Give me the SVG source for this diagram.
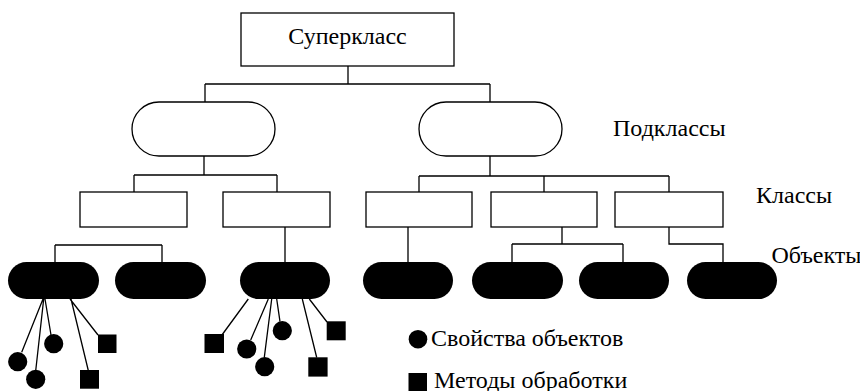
<svg xmlns="http://www.w3.org/2000/svg" width="860" height="391" viewBox="0 0 860 391">
<style>
.box{fill:#fff;stroke:#000;stroke-width:1.3}
.obj{fill:#000;stroke:none}
.ln{fill:none;stroke:#000;stroke-width:1.3}
.t{font-family:"Liberation Serif","Times New Roman",serif;font-size:24px;fill:#000}
</style>
<rect width="860" height="391" fill="#fff"/>
<g id="connectors" class="ln">
<path d="M348 66V84M205 84H490M205 84V102M490 84V102"/>
<path d="M204 156V175M134 175H277M134 175V192M277 175V192"/>
<path d="M490 156V176M419 176H669M419 176V192M544 176V192M669 176V192"/>
<path d="M285 227V262M408 227V262"/>
<path d="M562 227V244M512 244H623M512 244V262M623 244V262"/>
<path d="M669 227V244H723V262"/>
<path d="M55 245H162M55 245V262M162 245V262"/>
<path d="M43 299L21.7 352.3M43.7 299L35.7 370.7M45 299L51 335M70 299L98 335M71 299L88.3 370.5"/>
<path d="M248.3 299L222.3 334.5M268.3 299L250.7 340M271.7 299L264.3 357.3M276.7 299L280 321.7M302.3 299L316.7 357.5M309.3 299L327 322"/>
</g>
<g id="superclass"><rect class="box" x="241" y="13" width="213" height="53"/><text class="t" x="347.5" y="43.5" text-anchor="middle">Суперкласс</text></g>
<g id="sub1"><rect class="box" x="132" y="102" width="143" height="54" rx="27"/></g>
<g id="sub2"><rect class="box" x="419" y="102" width="143" height="54" rx="27"/></g>
<g id="c1"><rect class="box" x="80" y="192" width="107" height="35"/></g>
<g id="c2"><rect class="box" x="223" y="192" width="107" height="35"/></g>
<g id="c3"><rect class="box" x="366" y="192" width="106" height="35"/></g>
<g id="c4"><rect class="box" x="491" y="192" width="106" height="35"/></g>
<g id="c5"><rect class="box" x="615" y="192" width="108" height="35"/></g>
<g id="o1"><rect class="obj" x="8" y="262" width="91" height="37" rx="18.5"/></g>
<g id="o2"><rect class="obj" x="115" y="262" width="91" height="37" rx="18.5"/></g>
<g id="o3"><rect class="obj" x="240" y="262" width="90" height="37" rx="18.5"/></g>
<g id="o4"><rect class="obj" x="363" y="262" width="90" height="37" rx="18.5"/></g>
<g id="o5"><rect class="obj" x="472" y="262" width="91" height="37" rx="18.5"/></g>
<g id="o6"><rect class="obj" x="579" y="262" width="90" height="37" rx="18.5"/></g>
<g id="o7"><rect class="obj" x="687" y="262" width="90" height="37" rx="18.5"/></g>
<g id="o1-props" class="obj">
<circle cx="17.7" cy="361.7" r="9.6"/><circle cx="35.7" cy="379.3" r="9.6"/><circle cx="53.7" cy="343.7" r="9.6"/>
<rect x="98" y="334.5" width="18.5" height="18.5"/><rect x="80" y="370" width="19" height="18.7"/>
</g>
<g id="o3-props" class="obj">
<rect x="204.5" y="334" width="19.5" height="19"/>
<circle cx="246.7" cy="349" r="9.6"/><circle cx="264.7" cy="366.7" r="9.6"/><circle cx="282.3" cy="330.7" r="9.6"/>
<rect x="308.3" y="357.3" width="19.3" height="19.3"/><rect x="326.7" y="321.3" width="19" height="19"/>
</g>
<g id="labels">
<text class="t" x="613" y="135.5">Подклассы</text>
<text class="t" x="756" y="203.3">Классы</text>
<text class="t" x="771.5" y="263.3">Объекты</text>
</g>
<g id="legend">
<circle class="obj" cx="418" cy="339.2" r="9.3"/>
<text class="t" x="431" y="346">Свойства объектов</text>
<rect class="obj" x="408.5" y="373" width="18.5" height="18"/>
<text class="t" x="434" y="387.7">Методы обработки</text>
</g>
</svg>
